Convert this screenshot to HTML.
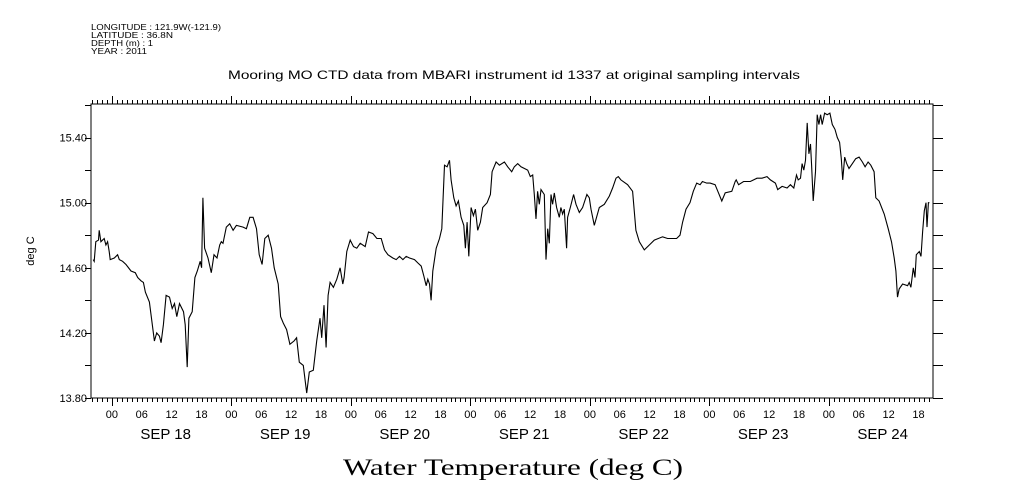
<!DOCTYPE html>
<html><head><meta charset="utf-8">
<style>
html,body{margin:0;padding:0;background:#fff;}
svg{display:block;font-family:"Liberation Sans",sans-serif;}
</style></head>
<body>
<svg id="chart" width="1009" height="504" viewBox="0 0 1009 504" xmlns="http://www.w3.org/2000/svg">
<rect x="0" y="0" width="1009" height="504" fill="#fff"/>
<g font-size="8.5" fill="#000">
<text x="91" y="30" textLength="130" lengthAdjust="spacingAndGlyphs">LONGITUDE : 121.9W(-121.9)</text>
<text x="91" y="38" textLength="82" lengthAdjust="spacingAndGlyphs">LATITUDE : 36.8N</text>
<text x="91" y="46" textLength="62" lengthAdjust="spacingAndGlyphs">DEPTH (m) : 1</text>
<text x="91" y="54" textLength="56" lengthAdjust="spacingAndGlyphs">YEAR : 2011</text>
</g>
<text x="228" y="79" textLength="572" lengthAdjust="spacingAndGlyphs" font-size="12">Mooring MO CTD data from MBARI instrument id 1337 at original sampling intervals</text>
<text x="34" y="251" text-anchor="middle" font-size="11" transform="rotate(-90 34 251)">deg C</text>
<text x="343" y="475" textLength="340" lengthAdjust="spacingAndGlyphs" font-size="23" font-family="'Liberation Serif',serif">Water Temperature (deg C)</text>
<g id="axes"></g>
<g id="plot"></g>
</svg>
<script>
// hours since SEP 18 00:00 (2011)
const hours = [-3.76,-3.56,-3.23,-2.69,-2.55,-2.22,-1.55,-1.21,-0.87,-0.54,-0.34,0.47,1.14,1.48,2.15,2.82,3.83,4.70,5.17,5.85,6.32,6.72,7.53,8.00,8.53,9.00,9.54,9.88,10.35,10.89,11.56,12.10,12.57,13.04,13.57,14.38,14.72,15.12,15.46,16.13,16.67,17.14,17.74,18.01,18.28,18.61,19.29,19.96,20.50,21.10,21.64,21.97,22.31,22.98,23.65,24.33,25.00,26.34,27.01,27.69,28.36,29.03,29.57,30.17,30.71,31.38,32.05,32.59,33.40,33.87,34.41,35.08,35.75,36.56,37.09,37.63,38.44,39.11,39.65,40.45,41.13,41.80,42.13,42.60,43.01,43.41,43.81,44.49,45.16,45.83,46.37,46.64,47.18,47.85,48.52,49.19,49.86,50.87,51.54,52.42,53.22,53.89,54.08,54.75,55.42,56.42,57.09,57.76,58.43,59.10,59.77,60.77,61.44,62.11,62.64,63.11,63.44,63.78,64.11,64.45,65.12,65.78,66.25,66.79,67.32,67.79,68.12,68.66,69.13,69.59,70.13,70.66,71.00,71.33,71.67,72.13,72.60,73.00,73.47,74.01,74.47,75.34,76.01,76.35,77.15,77.82,78.82,79.49,80.29,80.82,81.49,82.16,83.50,84.03,84.50,84.83,85.17,85.50,85.84,86.17,86.84,87.17,87.51,87.84,88.18,88.51,88.85,89.31,89.85,90.18,90.52,90.85,91.32,91.52,92.06,92.73,93.20,93.86,94.53,95.40,95.87,96.21,96.88,97.88,98.88,99.89,100.56,101.23,101.70,102.23,103.57,104.57,105.24,105.91,106.92,107.92,108.92,110.59,111.60,112.60,113.41,114.08,114.62,115.29,116.10,116.77,117.44,118.12,118.59,119.46,120.13,121.14,121.82,122.49,123.16,124.50,125.18,125.38,125.85,126.86,128.20,129.55,130.56,131.57,132.24,133.24,133.72,134.59,135.60,136.27,136.94,137.48,137.82,138.29,138.62,138.96,139.29,139.63,139.97,140.30,140.51,140.84,141.31,141.65,141.98,142.32,142.65,143.12,143.66,144.20,144.67,145.21,145.68,146.15,146.49,146.76,147.16,147.57,148.03,148.71,149.38,150.05,150.72,151.26,151.87,152.40,153.08,153.41,154.08,155.09,155.90,156.57,157.11,157.44,157.78,158.12,158.79,159.80,160.13,160.47,160.94,161.28,161.55,162.15,162.49,162.82,163.16,163.50,163.70,163.97,164.17];
const temps = [14.65,14.64,14.76,14.77,14.83,14.76,14.78,14.74,14.76,14.70,14.65,14.66,14.68,14.65,14.64,14.62,14.58,14.57,14.54,14.52,14.51,14.45,14.39,14.28,14.15,14.20,14.18,14.14,14.25,14.43,14.42,14.35,14.38,14.30,14.38,14.33,14.25,13.99,14.29,14.33,14.54,14.58,14.64,14.60,15.03,14.72,14.66,14.57,14.68,14.66,14.74,14.76,14.75,14.85,14.87,14.83,14.86,14.85,14.84,14.91,14.91,14.84,14.68,14.62,14.78,14.80,14.72,14.60,14.50,14.30,14.26,14.22,14.13,14.15,14.17,14.02,14.00,13.83,13.96,13.97,14.15,14.29,14.17,14.37,14.11,14.43,14.51,14.48,14.53,14.60,14.50,14.54,14.70,14.77,14.73,14.72,14.75,14.73,14.82,14.81,14.78,14.78,14.78,14.71,14.68,14.66,14.65,14.67,14.65,14.67,14.66,14.65,14.63,14.61,14.55,14.49,14.53,14.50,14.40,14.58,14.72,14.78,14.84,15.23,15.22,15.26,15.14,15.03,14.98,15.01,14.91,14.86,14.72,14.88,14.67,14.97,14.92,14.96,14.83,14.88,14.97,15.00,15.05,15.19,15.25,15.23,15.25,15.22,15.19,15.22,15.24,15.22,15.20,15.16,15.17,15.05,14.90,15.07,14.99,15.08,15.05,14.65,14.84,14.75,15.05,14.99,15.06,14.97,14.91,14.97,14.93,14.96,14.72,14.91,14.97,15.05,14.99,14.94,14.97,15.05,15.03,14.96,14.86,14.97,14.99,15.04,15.09,15.15,15.16,15.14,15.11,15.07,14.83,14.76,14.71,14.74,14.77,14.79,14.78,14.78,14.78,14.80,14.88,14.96,15.00,15.07,15.12,15.11,15.13,15.12,15.12,15.11,15.06,15.01,15.06,15.07,15.13,15.14,15.11,15.13,15.13,15.15,15.15,15.16,15.14,15.12,15.08,15.10,15.09,15.11,15.09,15.17,15.14,15.15,15.24,15.20,15.26,15.49,15.30,15.36,15.23,15.01,15.19,15.54,15.48,15.54,15.48,15.55,15.54,15.55,15.48,15.45,15.40,15.37,15.27,15.14,15.28,15.24,15.21,15.24,15.27,15.28,15.25,15.22,15.25,15.23,15.19,15.03,15.01,14.93,14.84,14.76,14.66,14.58,14.42,14.47,14.50,14.49,14.51,14.48,14.60,14.54,14.68,14.70,14.67,14.82,14.95,15.00,14.85,15.00,15.00];
const yTickLabels = ["13.80","14.20","14.60","15.00","15.40"];
const dayLabels = ["SEP 18","SEP 19","SEP 20","SEP 21","SEP 22","SEP 23","SEP 24"];
const hourLabels = ["00","06","12","18"];

const NS = "http://www.w3.org/2000/svg";
const L = 91, R = 933, T = 104, B = 398;
const xMinH = -4.2, xMaxH = 164.9, yMin = 13.8, yMax = 15.606;
const xs = h => L + (h - xMinH) / (xMaxH - xMinH) * (R - L);
const ys = v => B - (v - yMin) / (yMax - yMin) * (B - T);
const axes = document.getElementById('axes');
const plot = document.getElementById('plot');
function mk(tag, attrs, parent) {
  const e = document.createElementNS(NS, tag);
  for (const k in attrs) e.setAttribute(k, attrs[k]);
  parent.appendChild(e);
  return e;
}
let frame = mk('rect', {x: L, y: T, width: R - L, height: B - T, fill: 'none', stroke: '#000', 'stroke-width': 1}, axes);



let d = '';
for (let h = Math.ceil(xMinH); h <= xMaxH; h++) {
  const x = Math.round(xs(h)) + 0.5;
  const major = ((h % 24) + 24) % 24 === 0;
  const len = major ? 8 : 4;
  d += `M${x},${B}v${len}M${x},${T}v${-len}`;
}
let xt = mk('path', {d: d, stroke: '#000', 'stroke-width': 1, fill: 'none'}, axes);


for (let h = Math.ceil(xMinH / 6) * 6; h <= xMaxH; h += 6) {
  const t = mk('text', {x: xs(h), y: 418, 'text-anchor': 'middle', 'font-size': 11}, axes);
  t.textContent = hourLabels[((h / 6) % 4 + 4) % 4];
  
  
}
dayLabels.forEach((lab, i) => {
  const t = mk('text', {x: xs(i * 24 + 12) - 6, y: 439, 'text-anchor': 'middle', 'font-size': 15}, axes);
  t.textContent = lab;
  
  
});
d = '';
for (let k = 0; k <= 9; k++) {
  const v = yMin + k * 0.2;
  if (v > yMax) break;
  const y = Math.round(ys(v)) + 0.5;
  d += `M${L},${y}h-6M${R},${y}h10`;
}
let yt = mk('path', {d: d, stroke: '#000', 'stroke-width': 1, fill: 'none'}, axes);


yTickLabels.forEach(lab => {
  const t = mk('text', {x: 87, y: ys(parseFloat(lab)) + 4, 'text-anchor': 'end', 'font-size': 11}, axes);
  t.textContent = lab;
  
  
});
const pts = hours.map((h, i) => xs(h).toFixed(1) + ',' + ys(temps[i]).toFixed(1)).join(' ');
let line = mk('polyline', {points: pts, fill: 'none', stroke: '#000', 'stroke-width': 1.1}, plot);


</script>
</body></html>
